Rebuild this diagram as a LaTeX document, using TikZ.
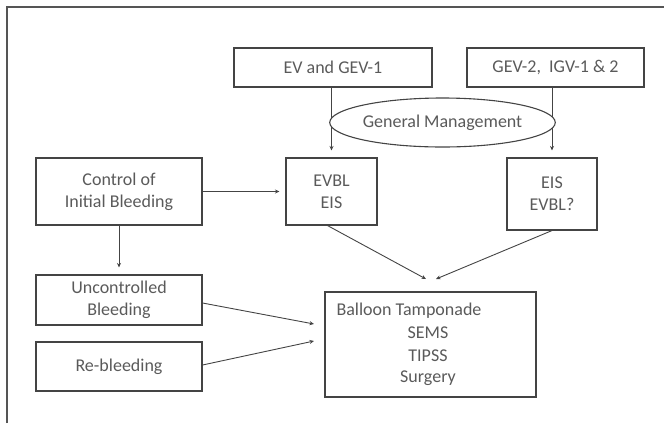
\documentclass[tikz,border=0pt]{standalone}
\usepackage{fontspec}
\setmainfont{Carlito}
\usetikzlibrary{shapes.geometric,arrows.meta}
\definecolor{txt}{HTML}{5A5A5A}
\definecolor{ln}{HTML}{444444}
\definecolor{frm}{HTML}{555555}
\begin{document}
\begin{tikzpicture}[x=1bp,y=-1bp,
  box/.style={draw=ln,line width=1.1bp,rectangle,inner sep=0pt,align=center,
    text=txt,font=\fontsize{18bp}{22bp}\selectfont},
  lbl/.style={inner sep=0pt,text=txt,font=\fontsize{18bp}{22bp}\selectfont},
  arr/.style={draw=ln,line width=0.9bp,-{Stealth[length=4.5bp,width=4bp]}}]
\useasboundingbox (0,0) rectangle (664,423);
% outer frame (top and left edges)
\draw[frm,line width=1.5bp] (7,423) -- (7,7) -- (664,7);
% nodes
\node[box,minimum width=198bp,minimum height=39bp] (ev) at (333,67.5) {EV and GEV-1};
\node[box,minimum width=177bp,minimum height=39bp] (gev) at (555.5,67.5) {GEV-2,~ IGV-1 \& 2};
\node[box,minimum width=91bp,minimum height=67bp] (evbl) at (331.5,191.5) {EVBL\\EIS};
\node[box,minimum width=90bp,minimum height=72bp] (eis) at (552,194) {EIS\\EVBL?};
\node[box,minimum width=166bp,minimum height=67bp] (ctrl) at (119,191.5) {Control of\\Initial Bleeding};
\node[box,minimum width=166bp,minimum height=50bp] (unc) at (119,300) {Uncontrolled\\Bleeding};
\node[box,minimum width=166bp,minimum height=49bp] (reb) at (119,366.5) {Re-bleeding};
\node[box,minimum width=211bp,minimum height=105bp] (bal) at (430.5,344.5) {};
\node[lbl] (bt) at (409,311) {Balloon Tamponade};
\node[lbl] (sems) at (428,333) {SEMS};
\node[lbl] (tipss) at (428,355.5) {TIPSS};
\node[lbl] (surg) at (428,378) {Surgery};
% connectors
\draw[arr,shorten >=7bp] (evbl.north |- ev.south) -- (evbl.north);
\draw[arr,shorten >=7bp] (eis.north |- gev.south) -- (eis.north);
\node[box,ellipse,fill=white,minimum width=221bp,minimum height=49bp] (gm) at (442.5,122.5) {General Management};
\draw[arr,shorten >=6bp] (ctrl.east) -- (evbl.west);
\draw[arr,shorten >=7bp] (ctrl.south) -- (unc.north);
\coordinate (m1) at (426,279);
\coordinate (m2) at (436,279);
\coordinate (u1) at (314,324);
\coordinate (r1) at (314,341);
\draw[arr] ([xshift=-4bp]evbl.south) -- (m1);
\draw[arr] (eis.south) -- (m2);
\draw[arr] ([yshift=-3bp]unc.east) -- (u1);
\draw[arr] ([yshift=1.5bp]reb.east) -- (r1);
\end{tikzpicture}
\end{document}
